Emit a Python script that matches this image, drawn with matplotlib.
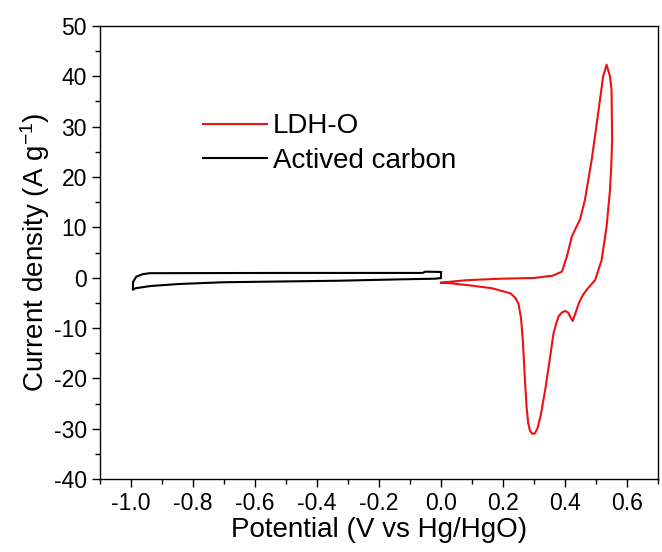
import matplotlib.pyplot as plt
import numpy as np

plt.rcParams['font.family'] = ['Liberation Sans', 'DejaVu Sans']
plt.rcParams['axes.unicode_minus'] = False
plt.rcParams['mathtext.fontset'] = 'custom'
plt.rcParams['mathtext.rm'] = 'Liberation Sans'
plt.rcParams['mathtext.it'] = 'Liberation Sans:italic'

# LDH-O cyclic voltammogram (anodic sweep then cathodic sweep)
ldh_v = [0.0, 0.03, 0.08, 0.19, 0.30, 0.36, 0.39, 0.406, 0.422, 0.436, 0.448, 0.464,
         0.486, 0.507, 0.523, 0.534, 0.545, 0.550, 0.552, 0.549, 0.545, 0.534, 0.518,
         0.497, 0.475, 0.458, 0.445, 0.435, 0.425, 0.418, 0.41, 0.40, 0.39, 0.38, 0.372,
         0.363, 0.352, 0.336, 0.322, 0.312, 0.303, 0.295, 0.287, 0.281, 0.276, 0.27,
         0.264, 0.258, 0.25, 0.24, 0.224, 0.165, 0.09, 0.015, 0.0]
ldh_i = [-1.0, -0.8, -0.5, -0.2, -0.05, 0.4, 1.2, 4.2, 8.2, 10.0, 11.5, 15.4,
         23.4, 32.7, 40.0, 42.3, 40.0, 37.3, 27.4, 22.0, 17.4, 10.1, 3.5,
         -0.5, -2.0, -3.4, -5.0, -6.8, -8.6, -7.9, -6.9, -6.6, -6.9, -7.6, -9.0,
         -11.0, -15.7, -22.3, -27.2, -29.8, -30.9, -31.0, -30.4, -28.8, -25.6, -19.5,
         -12.5, -8.0, -5.2, -4.0, -3.1, -2.1, -1.5, -1.0, -1.0]

# activated carbon loop
ac_v = [0.0, 0.0, -0.006, -0.02, -0.113, -0.333, -0.702, -0.846, -0.937, -0.986,
        -0.994, -0.993, -0.983, -0.962, -0.94, -0.49, -0.06, -0.05, -0.003, 0.0]
ac_i = [1.1, -0.1, -0.1, -0.2, -0.3, -0.6, -0.9, -1.25, -1.65, -2.1,
        -2.4, -0.8, 0.2, 0.7, 0.9, 0.95, 0.95, 1.2, 1.15, 1.1]

fig = plt.figure(figsize=(6.62, 5.52), dpi=100)
ax = fig.add_axes([0.151, 0.132, 0.843, 0.821])

ax.plot(ldh_v, ldh_i, color='#ee1111', lw=1.5, label='LDH-O')
ax.plot(ac_v, ac_i, color='black', lw=1.5, label='Actived carbon')

ax.set_xlim(-1.1, 0.7)
ax.set_ylim(-40, 50)
ax.set_xticks(np.arange(-1.0, 0.61, 0.2))
ax.set_xticks(np.arange(-1.1, 0.71, 0.1), minor=True)
ax.set_yticks(np.arange(-40, 51, 10))
ax.set_yticks(np.arange(-40, 51, 5), minor=True)
ax.xaxis.set_major_formatter(plt.FuncFormatter(lambda v, p: '%.1f' % (0.0 if abs(v) < 1e-9 else v)))
ax.tick_params(which='major', direction='out', length=6, width=1, labelsize=16.5)
ax.tick_params(which='minor', direction='out', length=3.5, width=1)
for s in ax.spines.values():
    s.set_linewidth(1)

ax.set_xlabel('Potential (V vs Hg/HgO)', fontsize=20, labelpad=1)
ax.set_ylabel('Current density (A g$^{-1}$)', fontsize=20, labelpad=1)

ax.legend(loc='upper left', bbox_to_anchor=(0.16, 0.838), frameon=False,
          fontsize=20, handlelength=2.3, handletextpad=0.2, labelspacing=0.32,
          borderpad=0)

fig.savefig('out.png', dpi=100)
